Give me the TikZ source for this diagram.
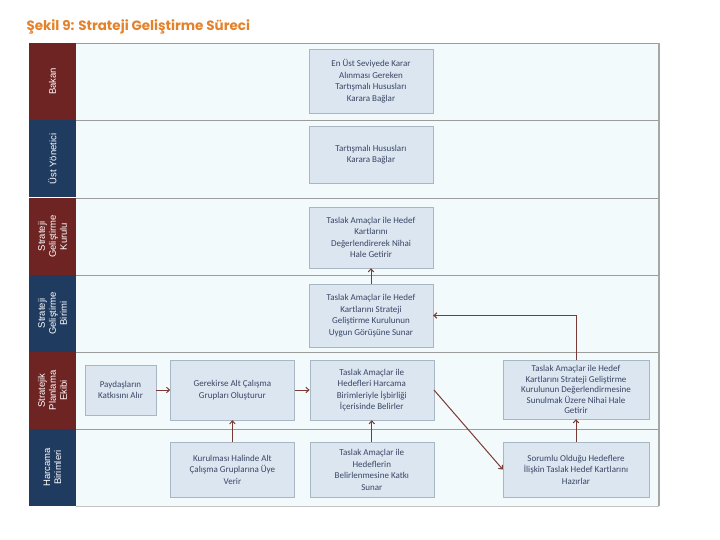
\documentclass[tikz,border=0pt]{standalone}
\usepackage{fontspec}
\setmainfont{Carlito}
\setsansfont{Liberation Sans}
\newfontfamily\titlefont{Poppins}
\usepackage{xcolor}
\usetikzlibrary{arrows.meta, positioning}
\definecolor{lanered}{HTML}{6E2423}
\definecolor{laneblue}{HTML}{1F3B60}
\definecolor{lanebg}{HTML}{F3FAFB}
\definecolor{laneline}{HTML}{9C9C9C}
\definecolor{boxfill}{HTML}{DCE6F1}
\definecolor{boxline}{HTML}{A9B6C4}
\definecolor{boxtext}{HTML}{394664}
\definecolor{flowred}{HTML}{7A3A34}
\definecolor{titleorange}{HTML}{E3822A}
\tikzset{
  lanelabel/.style={rectangle, rotate=90, text=white, minimum width=77pt,
                    minimum height=47pt, inner sep=0pt, align=center,
                    font=\sffamily\fontsize{9.5}{11}\selectfont},
  task/.style={rectangle, draw=boxline, fill=boxfill, text=boxtext, align=center,
               inner sep=2pt, minimum width=124pt, font=\fontsize{9}{11.5}\selectfont},
  flow/.style={-{Straight Barb[length=3pt,width=5.5pt]}, draw=flowred, line width=1pt}
}

\begin{document}
\begin{tikzpicture}[x=1pt, y=1pt]
  \useasboundingbox (0,0) rectangle (720,-540);

  \node[anchor=west, text=titleorange, font=\titlefont\bfseries\fontsize{13.5}{15}\selectfont]
    (title) at (23,-27) {Şekil 9: Strateji Geliştirme Süreci};

  % swimlanes
  \fill[lanebg] (76,-43) rectangle (659,-506);
  \draw[laneline, line width=0.8pt] (76,-43) -- (659,-43);
  \draw[laneline!60, line width=0.6pt] (76,-506) -- (659,-506);
  \draw[laneline] (76,-120) -- (659,-120);
  \draw[laneline] (76,-198) -- (659,-198);
  \draw[laneline] (76,-275) -- (659,-275);
  \draw[laneline] (76,-352) -- (659,-352);
  \draw[laneline] (76,-429) -- (659,-429);
  \draw[laneline!90, line width=1.8pt] (659,-43) -- (659,-506);

  \node[lanelabel, fill=lanered]  (bakan) at (52.5,-81.5)  {Bakan};
  \node[lanelabel, fill=laneblue] (ust)   at (52.5,-159)   {Üst Yönetici};
  \node[lanelabel, fill=lanered]  (sgk)   at (52.5,-236.5) {Strateji\\Geliştirme\\Kurulu};
  \node[lanelabel, fill=laneblue] (sgb)   at (52.5,-313.5) {Strateji\\Geliştirme\\Birimi};
  \node[lanelabel, fill=lanered]  (spe)   at (52.5,-390.5) {Stratejik\\Planlama\\Ekibi};
  \node[lanelabel, fill=laneblue] (hb)    at (52.5,-467.5) {Harcama\\Birimleri};

  % tasks
  \node[task, minimum height=64pt] (karar) at (371,-81)
    {En Üst Seviyede Karar\\Alınması Gereken\\Tartışmalı Hususları\\Karara Bağlar};
  \node[task, minimum height=57pt] (hususlar) at (371,-154.5)
    {Tartışmalı Hususları\\Karara Bağlar};
  \node[task, minimum height=61pt] (nihaikurul) at (371,-237.5)
    {Taslak Amaçlar ile Hedef\\Kartlarını\\Değerlendirerek Nihai\\Hale Getirir};
  \node[task, minimum height=63pt] (sunar) at (371,-315.5)
    {Taslak Amaçlar ile Hedef\\Kartlarını Strateji\\Geliştirme Kurulunun\\Uygun Görüşüne Sunar};

  \node[task, minimum width=71pt, minimum height=50pt] (paydas) at (120.5,-390)
    {Paydaşların\\Katkısını Alır};
  \node[task, minimum height=60pt, right=14pt of paydas] (altgrup)
    {Gerekirse Alt Çalışma\\Grupları Oluşturur};
  \node[task, minimum height=60pt, right=15pt of altgrup] (belirler)
    {Taslak Amaçlar ile\\Hedefleri Harcama\\Birimleriyle İşbirliği\\İçerisinde Belirler};
  \node[task, minimum width=146pt, minimum height=59pt, font=\fontsize{9}{10.5}\selectfont]
    (nihaiekip) at (576,-389.5)
    {Taslak Amaçlar ile Hedef\\Kartlarını Strateji Geliştirme\\Kurulunun Değerlendirmesine\\Sunulmak Üzere Nihai Hale\\Getirir};

  \node[task, minimum height=55pt, below=22pt of altgrup] (uyeverir)
    {Kurulması Halinde Alt\\Çalışma Gruplarına Üye\\Verir};
  \node[task, minimum height=55pt, below=22pt of belirler] (katki)
    {Taslak Amaçlar ile\\Hedeflerin\\Belirlenmesine Katkı\\Sunar};
  \node[task, minimum width=146pt, minimum height=55pt] (sorumlu) at (576,-469.5)
    {Sorumlu Olduğu Hedeflere\\İlişkin Taslak Hedef Kartlarını\\Hazırlar};

  % connectors
  \draw[flow] (paydas)   -- (altgrup);
  \draw[flow] (altgrup)  -- (belirler);
  \draw[flow] (uyeverir) -- (altgrup);
  \draw[flow] (katki)    -- (belirler);
  \draw[flow] (belirler.east) -- (sorumlu.west);
  \draw[flow] (sorumlu)  -- (nihaiekip);
  \draw[flow] (nihaiekip.north) |- (sunar.east);
  \draw[flow] (sunar)    -- (nihaikurul);

\end{tikzpicture}
\end{document}
